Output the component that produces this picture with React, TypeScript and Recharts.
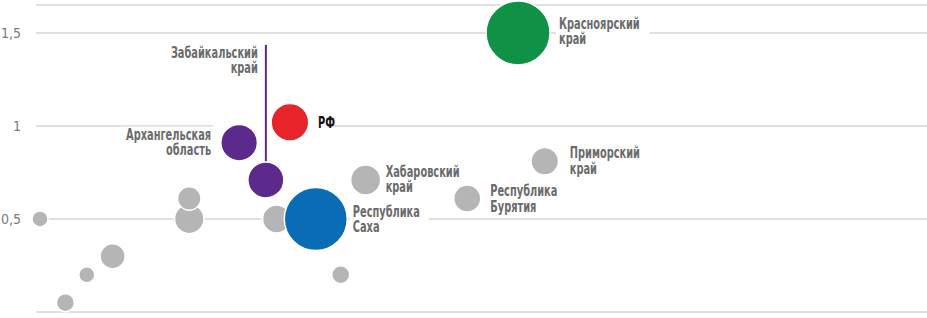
import React from 'react';
import { ScatterChart, Scatter, XAxis, YAxis, ZAxis, CartesianGrid, Cell } from 'recharts';

// Y axis
const yTicks = [0, 0.5, 1, 1.5];
const yTickLabels = ['0', '0,5', '1', '1,5'];

// Grey (other regions)
const grayNames = ['', '', '', '', '', '', '', '', 'Хабаровский край', 'Республика Бурятия', 'Приморский край'];
const grayX = [0.45, 3.3, 5.7, 8.6, 17.2, 17.2, 27.0, 34.2, 37.0, 48.4, 57.1];
const grayY = [0.5, 0.05, 0.2, 0.3, 0.5, 0.61, 0.5, 0.2, 0.71, 0.61, 0.81];
const grayZ = [64, 81, 64, 156, 216, 137, 196, 81, 225, 182, 188];

// Highlighted regions
const hlNames = ['Архангельская область', 'Забайкальский край', 'РФ', 'Республика Саха', 'Красноярский край'];
const hlX = [22.8, 25.8, 28.5, 31.4, 54.1];
const hlY = [0.91, 0.71, 1.02, 0.5, 1.5];
const hlZ = [335, 324, 353, 992, 1024];
const hlColors = ['#5b2a8c', '#5b2a8c', '#e8232a', '#0a6cb5', '#0f9146'];

const FONT = "'DejaVu Sans Condensed', 'DejaVu Sans', sans-serif";

const grayData = grayX.map((x, i) => ({ name: grayNames[i], x, y: grayY[i], z: grayZ[i] }));
const hlData = hlX.map((x, i) => ({ name: hlNames[i], x, y: hlY[i], z: hlZ[i] }));

type Layout = {
  dx: number;
  dy: number;
  anchor: 'start' | 'end';
  padL: number;
  padR: number;
  color: string;
  leaderTo?: number;
};
const labelLayout: Record<string, Layout> = {
  'Красноярский край': { dx: 41, dy: -4, anchor: 'start', padL: 3, padR: 10, color: '#6b6b6b' },
  'Приморский край': { dx: 25, dy: -3, anchor: 'start', padL: 3, padR: 4, color: '#6b6b6b' },
  'Республика Бурятия': { dx: 23, dy: -2, anchor: 'start', padL: 3, padR: 4, color: '#6b6b6b' },
  'Хабаровский край': { dx: 20, dy: -3, anchor: 'start', padL: 3, padR: 4, color: '#6b6b6b' },
  'Республика Саха': { dx: 37, dy: -2, anchor: 'start', padL: 3, padR: 9, color: '#6b6b6b' },
  'РФ': { dx: 28, dy: 6, anchor: 'start', padL: 105, padR: 2, color: '#111111' },
  'Архангельская область': { dx: -28, dy: -3, anchor: 'end', padL: 3, padR: 2, color: '#6b6b6b' },
  'Забайкальский край': { dx: -8, dy: -122, anchor: 'end', padL: 3, padR: 2, color: '#6b6b6b', leaderTo: -135 },
};

// leader-line labels last so their lines stay on top
const labelData = [...grayData, ...hlData]
  .filter((d) => d.name !== '')
  .sort((a, b) => Number(labelLayout[a.name]?.leaderTo !== undefined) - Number(labelLayout[b.name]?.leaderTo !== undefined));

const FONT_SIZE = 15.5;
const SCALE_X = 0.705;
const CHAR_W = 6.7;
const LINE_H = 15.5;

const LabelShape = (props: any) => {
  const { cx, cy, payload } = props;
  const name: string = payload?.name ?? '';
  const layout = labelLayout[name];
  if (!layout) return <g />;
  const r = Math.sqrt(payload.z);
  const lines = name.split(' ');
  const x = cx + layout.dx;
  const y0 = cy + layout.dy;
  const maxLen = Math.max(...lines.map((l) => l.length));
  const tw = maxLen * CHAR_W;
  const left = layout.anchor === 'start' ? x : x - tw;
  const rx = left - layout.padL;
  const rw = tw + layout.padL + layout.padR;
  const ry = y0 - 13;
  const rh = (lines.length - 1) * LINE_H + 18;
  return (
    <g>
      <rect x={rx} y={ry} width={rw} height={rh} fill="#ffffff" />
      <text
        x={x}
        y={y0}
        textAnchor={layout.anchor}
        fontFamily={FONT}
        fontWeight="bold"
        fontSize={FONT_SIZE}
        fill={layout.color}
        transform={`translate(${x} 0) scale(${SCALE_X} 1) translate(${-x} 0)`}
      >
        {lines.map((l, i) => (
          <tspan key={i} x={x} dy={i === 0 ? 0 : LINE_H}>
            {l}
          </tspan>
        ))}
      </text>
      {layout.leaderTo !== undefined && (
        <line x1={cx} x2={cx} y1={cy - r} y2={cy + layout.leaderTo} stroke="#5b2a8c" strokeWidth={2} />
      )}
    </g>
  );
};

const YTick = (props: any) => {
  const { x, y, payload } = props;
  const idx = yTicks.indexOf(payload.value);
  return (
    <text x={x} y={y} dy={5} textAnchor="end" fontFamily={FONT} fontSize={14} fill="#7a7a7a">
      {yTickLabels[idx]}
    </text>
  );
};

export default function App() {
  return (
    <div style={{ position: 'absolute', left: 0, top: 0, background: '#fff' }}>
      <ScatterChart width={927} height={318} margin={{ top: 5, right: 0, bottom: 6, left: 0 }}>
        <CartesianGrid vertical={false} stroke="#d6d6d6" strokeWidth={1.5} />
        <XAxis type="number" dataKey="x" domain={[0, 100]} hide />
        <YAxis
          type="number"
          dataKey="y"
          domain={[0, 1.65]}
          ticks={yTicks}
          width={36}
          axisLine={false}
          tickLine={false}
          tickSize={0}
          tickMargin={15}
          tick={<YTick />}
        />
        <ZAxis type="number" dataKey="z" domain={[0, 1100]} range={[0, 1100 * Math.PI]} />
        <Scatter data={labelData} shape={<LabelShape />} isAnimationActive={false} />
        <Scatter data={grayData} fill="#b5b5b5" stroke="#ffffff" strokeWidth={1.5} isAnimationActive={false} />
        <Scatter data={hlData} stroke="#ffffff" strokeWidth={1.5} isAnimationActive={false}>
          {hlData.map((d, i) => (
            <Cell key={d.name} fill={hlColors[i]} />
          ))}
        </Scatter>
      </ScatterChart>
    </div>
  );
}
